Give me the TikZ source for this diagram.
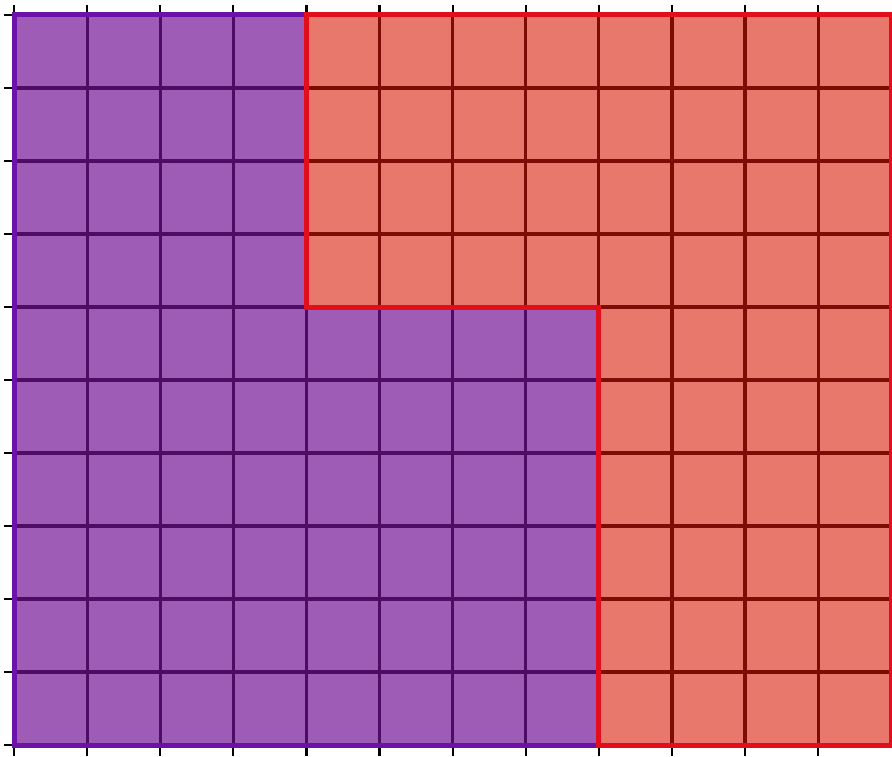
\documentclass[tikz,border=0pt]{standalone}
\definecolor{pfill}{RGB}{158,92,183}
\definecolor{pline}{RGB}{78,12,100}
\definecolor{pborder}{RGB}{108,18,168}
\definecolor{rfill}{RGB}{232,120,107}
\definecolor{rline}{RGB}{125,12,4}
\definecolor{rborder}{RGB}{226,14,28}
\tikzset{
  gridline/.style={line width=3.2pt},
  borderline/.style={line width=5pt, line join=miter},
  tickline/.style={line width=2.2pt, black}
}
\begin{document}
\begin{tikzpicture}[x=1pt,y=-1pt]
\useasboundingbox (0,0) rectangle (892,757);
\def\cw{73.1}
\def\rh{73}
% coordinates
\coordinate (A) at (14,15);
\coordinate (B) at ({14+4*\cw},15);
\coordinate (C) at ({14+4*\cw},{15+4*\rh});
\coordinate (D) at ({14+8*\cw},{15+4*\rh});
\coordinate (E) at ({14+8*\cw},{15+10*\rh});
\coordinate (F) at (14,{15+10*\rh});
\coordinate (G) at ({14+12*\cw},15);
\coordinate (H) at ({14+12*\cw},{15+10*\rh});
% fills
\fill[pfill] (A) -- (B) -- (C) -- (D) -- (E) -- (F) -- cycle;
\fill[rfill] (B) -- (G) -- (H) -- (E) -- (D) -- (C) -- cycle;
% grid lines purple region
\begin{scope}
\clip (A) -- (B) -- (C) -- (D) -- (E) -- (F) -- cycle;
\foreach \i in {1,...,11} \draw[gridline,pline] ({14+\i*\cw},0) -- ({14+\i*\cw},757);
\foreach \j in {1,...,9} \draw[gridline,pline] (0,{15+\j*\rh}) -- (892,{15+\j*\rh});
\end{scope}
% grid lines red region
\begin{scope}
\clip (B) -- (G) -- (H) -- (E) -- (D) -- (C) -- cycle;
\foreach \i in {1,...,11} \draw[gridline,rline] ({14+\i*\cw},0) -- ({14+\i*\cw},757);
\foreach \j in {1,...,9} \draw[gridline,rline] (0,{15+\j*\rh}) -- (892,{15+\j*\rh});
\end{scope}
% borders
\draw[borderline,pborder] (B) -- (A) -- (F) -- (E);
\draw[borderline,rborder] (B) -- (G) -- (H) -- (E) -- (D) -- (C) -- cycle;
% ticks
\foreach \j in {0,...,10} \draw[tickline] (4,{15+\j*\rh}) -- (12,{15+\j*\rh});
\foreach \i in {0,...,11} {
  \draw[tickline] ({14+\i*\cw},5) -- ({14+\i*\cw},12);
  \draw[tickline] ({14+\i*\cw},748) -- ({14+\i*\cw},756);
}
\end{tikzpicture}
\end{document}
